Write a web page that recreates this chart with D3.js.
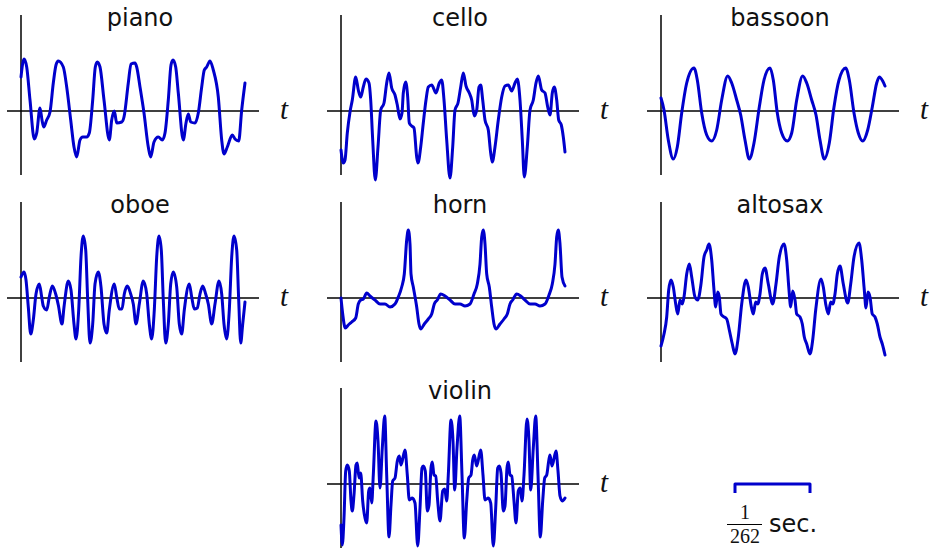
<!DOCTYPE html>
<html>
<head>
<meta charset="utf-8">
<script src="https://cdn.jsdelivr.net/npm/d3@7"></script>
<style>
  body { margin: 0; background: #fff; }
  svg { display: block; }
  .title { font-family: "DejaVu Sans", sans-serif; font-size: 24px; fill: #111; }
  .tlabel { font-family: "Liberation Serif", "DejaVu Serif", serif; font-style: italic; font-size: 29px; fill: #111; }
  .frac { font-family: "Liberation Serif", serif; font-size: 20px; fill: #111; }
  .axis { stroke: #000; stroke-width: 1.5; }
  .wave { fill: none; stroke: #0000cc; stroke-width: 3; stroke-linejoin: round; stroke-linecap: round; }
</style>
</head>
<body>
<svg id="chart" width="930" height="549"></svg>
<script>
// Waveforms: [time in samples (~75 samples = 1/262 sec), amplitude]
const piano = [[0,34],[3,52],[5.7,44],[9,11],[13.3,-28],[15.7,-22],[19,3],[21,-9],[22.7,-16],[25.7,-9],[29,-1],
  [32.3,28],[35,46],[37.3,50],[42.3,44],[45.7,24],[49.7,-9],[53,-36],[55.7,-46],[59,-29],[61.7,-26],[65.7,-26],
  [68.3,-22],[71.7,11],[74.3,44],[76.3,49],[79,44],[83,11],[88.3,-29],[90.7,-9],[93.3,0],[95.7,-12],[100.7,-11],
  [103,-6],[107.3,28],[110,47],[114,48],[115.7,44],[119,24],[123,-2],[127.3,-36],[129.7,-46],[133,-31],[137.3,-26],
  [141.3,-29],[144,-22],[147.3,11],[150,46],[152,51],[154.7,44],[157.3,18],[162.3,-29],[165,-12],[167.3,-3],
  [169.7,-11],[174,-12],[177.3,-2],[180.7,24],[183.3,41],[185.7,44],[189,50],[192.3,41],[197.3,14],[200.7,-29],
  [203,-43],[206.3,-36],[211.3,-24],[214,-28],[217.7,-30],[220.7,1],[224,28]];

const cello = [[0,-39],[2.3,-52],[4,-49],[6.3,-22],[9,-1],[11.3,11],[14.7,34],[17.3,21],[19.7,14],[22.3,24],[25,32],
  [28,28],[29.7,11],[31.7,-29],[34.3,-69],[37,-36],[39.7,1],[43,8],[45.7,28],[48,38],[50.7,23],[54,16],[56.3,6],
  [59,-8],[61,-2],[62.3,18],[64.7,29],[66.7,14],[68.3,-12],[70.7,-15],[73,-17],[75.7,-46],[77,-52],[79.7,-36],
  [82.3,-12],[85,11],[87.3,24],[90.7,26],[95,18],[98.3,28],[100.7,31],[103,11],[105.7,-29],[109,-67],[111.7,-36],
  [114,1],[117,8],[119.7,24],[122.3,38],[125,25],[128.3,18],[130.7,11],[133.3,-5],[135.7,1],[138,24],[139.7,26],
  [141.7,11],[144,-9],[147.3,-19],[149.7,-42],[151.3,-51],[154,-36],[157.3,-9],[160.7,14],[164,25],[167.3,26],
  [170.7,20],[174,28],[176.3,32],[179,11],[181.3,-29],[183.3,-66],[186.3,-36],[189,1],[192.3,11],[195,28],
  [197.3,35],[200.7,21],[204,18],[206.7,4],[209,-4],[211.3,18],[213.3,24],[215.7,11],[217.7,-9],[220.3,-14],
  [222.3,-26],[224,-41]];

const bassoon = [[0,13],[3,1],[7.3,-29],[12.3,-48],[16.3,-36],[20.7,-2],[25.7,28],[33,43],[36.3,31],[40.7,-2],
  [45.7,-24],[50.7,-30],[55.7,-19],[60.7,11],[66.7,35],[70.7,28],[75.7,11],[79.7,-4],[84,-29],[88.3,-48],[93,-32],
  [98.3,4],[103,31],[109,43],[112.3,31],[116.3,-2],[120.7,-22],[126.3,-30],[130.7,-22],[135.7,11],[141.7,35],
  [145.7,28],[150.7,11],[155,-4],[159,-29],[163.3,-48],[168.3,-32],[173,4],[178,31],[184.7,43],[188.3,31],
  [193,-2],[197.3,-22],[201.7,-30],[206.7,-19],[211.3,4],[215.7,28],[218.3,34],[221.7,30],[224,25]];

const oboe = [[0,21],[3,26],[5,18],[7.3,-9],[9.7,-36],[12.3,-22],[15,4],[18.3,14],[20.7,1],[22.3,-8],[25.7,-12],
  [28.3,1],[31.3,12],[34.7,4],[37.3,-7],[41,-26],[43,-9],[47.3,17],[50,8],[53,-26],[55,-41],[57.7,-12],[60,41],
  [62.3,62],[64.7,48],[66.7,-2],[69,-45],[71.7,-26],[74,14],[77.3,26],[80,11],[83,-26],[85.7,-35],[88.3,-12],
  [93.3,14],[95.7,1],[98.3,-11],[101,-11],[103.3,4],[106.3,12],[109.7,4],[112.3,-6],[115,-26],[118.3,-6],
  [122.3,17],[125.7,4],[128.3,-26],[130.7,-41],[133.3,-12],[135.7,41],[138,62],[140.3,48],[142.3,-2],[144.7,-45],
  [147.3,-26],[149.7,14],[152.3,26],[155.7,11],[158.3,-26],[160.7,-36],[163.3,-12],[168.3,14],[170.7,1],
  [173.3,-11],[176.3,-10],[179,4],[181.7,12],[184.7,4],[187.3,-6],[190.7,-26],[194,-6],[198,17],[200.7,4],
  [203,-26],[205.7,-41],[208.3,-12],[210.7,41],[213,62],[215.7,48],[217.7,-2],[219.7,-45],[221.7,-26],[224,-4]];

const horn = [[0,0],[1.7,-16],[4.3,-30],[7.3,-27],[10.7,-24],[14.7,-20],[17.3,-6],[19.7,-2],[22.3,-1],[25.7,5],
  [29,2],[34,-2],[39,-6],[44,-6],[49,-9],[54,-6],[57.3,1],[60.7,11],[63.3,24],[65.7,58],[67.3,68],[69,54],[70,24],
  [72.3,11],[75.7,-9],[78,-26],[79.7,-31],[83.3,-26],[87.3,-21],[90.7,-16],[93.3,-6],[96.3,-2],[99.7,4],[104,2],
  [109,-2],[114,-6],[119,-6],[124,-8],[129,-6],[133,4],[136.3,14],[139,34],[140.7,61],[142.3,68],[144,54],
  [145.7,24],[148.3,11],[150.7,-9],[153,-26],[155,-31],[159,-26],[163,-21],[166.3,-16],[169,-6],[171.7,-2],
  [175.7,4],[179.7,2],[184,-2],[189,-6],[194,-6],[199,-8],[204,-6],[208,3],[211.3,14],[214,34],[215.7,61],
  [217.3,68],[219,54],[221,21],[224,12]];

const altosax = [[0,-48],[3,-36],[5.7,-19],[7.7,8],[10,18],[12.3,11],[14.7,-6],[16.7,-16],[19,-2],[21.3,-6],[23,1],
  [25.7,24],[28.3,34],[30.7,21],[34,1],[36.7,-2],[40,14],[43,41],[45.7,48],[48,54],[50.7,38],[53,8],[54.7,-9],
  [56.7,6],[58.3,1],[60,-16],[61.7,-18],[65.7,-21],[68.3,-32],[71.3,-46],[74,-56],[77.3,-39],[80.7,-6],[85,18],
  [87.3,11],[90,-7],[92.3,-16],[94.7,-4],[96.7,-6],[99,4],[101.3,24],[104,30],[107.3,14],[111.7,-6],[115,14],
  [118.3,41],[123,54],[125.7,38],[128,8],[129.7,-9],[131.7,7],[134,-2],[135.7,-16],[139,-19],[141.3,-26],
  [143.3,-39],[145.7,-46],[149,-56],[151.7,-42],[154.7,-12],[160,19],[162.3,11],[164.7,-6],[167.3,-16],
  [169.7,-4],[171.7,-6],[174,4],[176.3,24],[179,32],[182.3,14],[186.7,-5],[189.7,14],[193,41],[198,55],
  [200.7,38],[203.3,8],[205,-10],[207,6],[209,1],[211.3,-16],[214,-19],[216.3,-26],[219,-39],[221.3,-46],[224,-57]];

const violin = [[0,-41],[1.3,-61],[3,-34],[4.7,13],[6.3,19],[8.3,13],[10,-17],[11.3,-27],[13,-11],[15,19],[16.3,21],
  [18,6],[19.7,11],[21.7,-17],[24,-34],[25.7,-39],[27.7,-7],[29,-4],[30.7,-19],[32.3,9],[35,63],[37,43],[39,-4],
  [41.3,36],[43.7,68],[45.7,9],[48,-53],[50,-21],[51.7,3],[54,6],[56.3,23],[58.3,28],[60,19],[64,34],[66.3,9],
  [68.3,-16],[71.3,-14],[74,-19],[76.7,-62],[79,-24],[81,16],[82.3,18],[84.3,13],[86.3,-27],[88,-21],[90,16],
  [91.3,22],[93,9],[94.7,8],[96.7,-17],[99,-37],[101.7,-7],[103.7,-5],[105.7,-17],[107.3,9],[110,64],[112,43],
  [113.7,-6],[116,36],[118.7,68],[121,9],[123.3,-54],[125.7,-17],[127.7,6],[130,9],[131.7,24],[133.3,29],
  [135.7,18],[139.7,34],[142,9],[144,-16],[147.3,-14],[149.7,-19],[152.3,-62],[154.7,-24],[156.7,16],[158.3,18],
  [160,11],[162.3,-27],[164,-22],[166,16],[167.3,22],[169,9],[170.7,8],[173,-17],[175,-39],[177.3,-7],[179.3,-4],
  [181,-17],[183,9],[186,65],[188,43],[189.7,-6],[192.3,36],[194.7,68],[197,9],[199.3,-53],[201.7,-17],[203.7,6],
  [205.7,9],[207.7,23],[209,29],[211,18],[215,33],[217,13],[219,-12],[221.3,-17],[224,-14]];

const names = ["piano", "cello", "bassoon", "oboe", "horn", "altosax", "violin"];
const waves = [piano, cello, bassoon, oboe, horn, altosax, violin];
// grid slot of each instrument [column, row]
const slots = [[0, 0], [1, 0], [2, 0], [0, 1], [1, 1], [2, 1], [1, 2]];

const scaleBarSamples = 75;   // 1/262 sec
const scaleBarLabel = ["1", "262", "sec."];

const svg = d3.select("#chart");
const colX = [21, 341, 661];
const rowY = [111, 298, 484];

const x = d3.scaleLinear().domain([0, 224]).range([0, 224]);
const y = d3.scaleLinear().domain([-64, 96]).range([64, -96]);

const line = d3.line()
  .x(d => x(d[0]))
  .y(d => y(d[1]))
  .curve(d3.curveMonotoneX);

names.forEach((name, i) => {
  const [c, r] = slots[i];
  const g = svg.append("g")
    .attr("transform", "translate(" + colX[c] + "," + rowY[r] + ")");

  // axes
  g.append("line").attr("class", "axis")
    .attr("x1", 0).attr("x2", 0).attr("y1", y(96)).attr("y2", y(-64));
  g.append("line").attr("class", "axis")
    .attr("x1", -14).attr("x2", 238).attr("y1", y(0)).attr("y2", y(0));

  g.append("text").attr("class", "tlabel")
    .attr("x", 259).attr("y", 8)
    .text("t");

  g.append("text").attr("class", "title")
    .attr("x", 119).attr("y", -85)
    .attr("text-anchor", "middle")
    .text(name);

  g.append("path").datum(waves[i])
    .attr("class", "wave")
    .attr("d", line);
});

// scale bar
const sb = svg.append("g").attr("transform", "translate(735,484)");
sb.append("path")
  .attr("class", "wave")
  .style("stroke-linecap", "butt")
  .attr("d", "M0,9V0H" + x(scaleBarSamples) + "V9");

const frac = svg.append("g").attr("transform", "translate(745,0)");
frac.append("text").attr("class", "frac")
  .attr("x", 0).attr("y", 519)
  .attr("text-anchor", "middle")
  .text(scaleBarLabel[0]);
frac.append("line")
  .attr("x1", -18).attr("x2", 17).attr("y1", 524.5).attr("y2", 524.5)
  .attr("stroke", "#000").attr("stroke-width", 1);
frac.append("text").attr("class", "frac")
  .attr("x", 0).attr("y", 543)
  .attr("text-anchor", "middle")
  .text(scaleBarLabel[1]);

svg.append("text").attr("class", "title")
  .attr("x", 769).attr("y", 532)
  .text(scaleBarLabel[2]);
</script>
</body>
</html>
